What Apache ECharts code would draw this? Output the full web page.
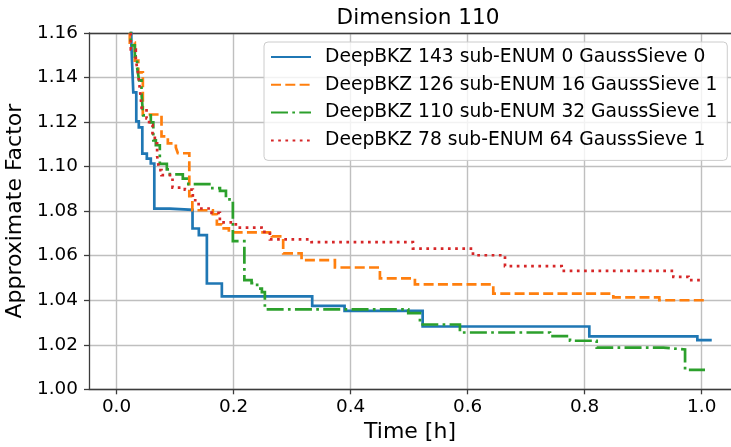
<!DOCTYPE html>
<html>
<head>
<meta charset="utf-8">
<script src="https://cdn.jsdelivr.net/npm/echarts@6/dist/echarts.min.js"></script>
<style>
  html, body { margin: 0; padding: 0; background: #fff; overflow: hidden; }
  #chart { width: 731px; height: 447px; }
</style>
</head>
<body>
<div id="chart"></div>
<script>
// step points: time where the value changes, value after the change
const seriesNames = [
  'DeepBKZ 143 sub-ENUM 0 GaussSieve 0',
  'DeepBKZ 126 sub-ENUM 16 GaussSieve 1',
  'DeepBKZ 110 sub-ENUM 32 GaussSieve 1',
  'DeepBKZ 78 sub-ENUM 64 GaussSieve 1'
]

const blueTime = [0.015, 0.0253, 0.0287, 0.0338, 0.0381, 0.0441, 0.0518, 0.0586, 0.0646, 0.0911, 0.1299, 0.1407, 0.1544, 0.18, 0.3344, 0.3897, 0.5231, 0.8079, 0.9925, 1.0171]
const blueFactor = [1.19, 1.1553, 1.1333, 1.1203, 1.1176, 1.1058, 1.1036, 1.1014, 1.0811, 1.0806, 1.0722, 1.0692, 1.0475, 1.0417, 1.0375, 1.0352, 1.0282, 1.0238, 1.0221, 1.0221]

const orangeTime = [0.015, 0.0227, 0.0313, 0.0373, 0.045, 0.0769, 0.0877, 0.1014, 0.1048, 0.1244, 0.1296, 0.1646, 0.1715, 0.18, 0.192, 0.2655, 0.2848, 0.3162, 0.3732, 0.4501, 0.5099, 0.6438, 0.8489, 0.9275, 1.0056]
const orangeFactor = [1.19, 1.1557, 1.1476, 1.1423, 1.1234, 1.1136, 1.1104, 1.1086, 1.106, 1.0867, 1.0804, 1.0786, 1.0741, 1.0723, 1.0705, 1.0687, 1.061, 1.058, 1.0547, 1.0498, 1.0471, 1.043, 1.0413, 1.04, 1.04]

const greenTime = [0.015, 0.0244, 0.0313, 0.0352, 0.0386, 0.0427, 0.0455, 0.0586, 0.0629, 0.0672, 0.074, 0.086, 0.0911, 0.1133, 0.1227, 0.1612, 0.1768, 0.187, 0.1988, 0.2185, 0.2308, 0.2403, 0.2484, 0.2535, 0.4985, 0.5185, 0.5868, 0.7407, 0.7749, 0.8205, 0.9344, 0.9715, 1.0056]
const greenFactor = [1.19, 1.1544, 1.1495, 1.1445, 1.1387, 1.1328, 1.123, 1.1199, 1.1118, 1.1096, 1.1012, 1.0988, 1.0965, 1.0946, 1.0921, 1.0903, 1.0891, 1.0853, 1.0665, 1.049, 1.0477, 1.0452, 1.0436, 1.0359, 1.0342, 1.0291, 1.0255, 1.0239, 1.0218, 1.0187, 1.0179, 1.0087, 1.0087]

const redTime = [0.015, 0.0244, 0.033, 0.0352, 0.0369, 0.0386, 0.041, 0.0432, 0.0513, 0.0557, 0.0615, 0.0655, 0.0694, 0.0728, 0.0769, 0.0957, 0.1168, 0.1304, 0.1403, 0.1624, 0.1766, 0.2039, 0.2479, 0.2621, 0.3333, 0.5065, 0.6091, 0.6638, 0.7607, 0.9515, 0.9774, 1.0027]
const redFactor = [1.19, 1.1526, 1.1477, 1.1445, 1.1418, 1.1378, 1.132, 1.1253, 1.1217, 1.1186, 1.1141, 1.1105, 1.1047, 1.0984, 1.0962, 1.0906, 1.0897, 1.0849, 1.0812, 1.0792, 1.075, 1.0726, 1.0707, 1.0673, 1.0661, 1.0632, 1.0602, 1.0553, 1.0532, 1.0505, 1.049, 1.049]

const xTicks = [0, 0.2, 0.4, 0.6, 0.8, 1.0]

const colors = ['#1f77b4', '#ff7f0e', '#2ca02c', '#d62728']
const lw = 2.7
const dashes = ['solid', [10, 4.3], [17, 4.3, 2.7, 4.3], [2.7, 4.5]]

function zip(xs, ys) {
  return xs.map((x, i) => [x, ys[i]])
}

const allData = [
  zip(blueTime, blueFactor),
  zip(orangeTime, orangeFactor),
  zip(greenTime, greenFactor),
  zip(redTime, redFactor)
]

const font = 'DejaVu Sans'
const spine = '#3c3c3c'
const chart = echarts.init(document.getElementById('chart'), null, { renderer: 'canvas' })

chart.setOption({
  animation: false,
  backgroundColor: '#fff',
  title: {
    text: 'Dimension 110',
    left: 413,
    textAlign: 'center',
    top: 2,
    textStyle: { fontFamily: font, fontSize: 21.6, fontWeight: 'normal', color: '#000' }
  },
  // the plot runs past the right edge of the picture, so only three spines show
  grid: {
    left: 89,
    top: 33,
    width: 642,
    height: 356.3,
    show: false,
    containLabel: false,
    outerBoundsMode: 'none'
  },
  legend: {
    orient: 'vertical',
    left: 264,
    top: 42,
    itemWidth: 40,
    itemHeight: 14,
    itemGap: 5.8,
    padding: [4, 10, 9, 6],
    backgroundColor: 'rgba(255,255,255,0.8)',
    borderColor: '#cccccc',
    borderWidth: 1,
    borderRadius: 4,
    itemStyle: { color: 'rgba(0,0,0,0)', borderWidth: 0, opacity: 0 },
    textStyle: {
      fontFamily: font,
      fontSize: 18.7,
      lineHeight: 22,
      color: '#000',
      padding: [0, 0, 0, 9]
    },
    data: seriesNames
  },
  xAxis: [{
    type: 'value',
    min: -0.047,
    max: 1.05,
    name: 'Time [h]',
    nameLocation: 'middle',
    nameGap: 31,
    nameTextStyle: { fontFamily: font, fontSize: 22, color: '#000' },
    axisLine: { show: true, onZero: false, lineStyle: { color: spine, width: 1.3 } },
    axisTick: { show: true, length: 5, customValues: xTicks, lineStyle: { color: spine, width: 1.3 } },
    axisLabel: {
      customValues: xTicks,
      margin: 9,
      fontFamily: font,
      fontSize: 18.4,
      color: '#000',
      formatter: v => v.toFixed(1)
    },
    splitLine: { show: true, lineStyle: { color: '#bfbfbf', width: 1.4 } }
  }, {
    // top spine only
    type: 'value',
    position: 'top',
    min: -0.047,
    max: 1.05,
    axisLine: { show: true, onZero: false, lineStyle: { color: spine, width: 1.3 } },
    axisTick: { show: false },
    axisLabel: { show: false },
    splitLine: { show: false }
  }],
  yAxis: {
    type: 'value',
    min: 1.0,
    max: 1.16,
    interval: 0.02,
    name: 'Approximate Factor',
    nameLocation: 'middle',
    nameGap: 41,
    nameTextStyle: { fontFamily: font, fontSize: 22, color: '#000' },
    axisLine: { show: true, onZero: false, lineStyle: { color: spine, width: 1.3 } },
    axisTick: { show: true, length: 5, lineStyle: { color: spine, width: 1.3 } },
    axisLabel: {
      margin: 11,
      fontFamily: font,
      fontSize: 18.4,
      color: '#000',
      formatter: v => v.toFixed(2)
    },
    splitLine: { show: true, lineStyle: { color: '#bfbfbf', width: 1.4 } }
  },
  series: allData.map((d, i) => ({
    name: seriesNames[i],
    type: 'line',
    step: 'end',
    data: d,
    symbol: 'none',
    clip: true,
    color: colors[i],
    lineStyle: { color: colors[i], width: lw, type: dashes[i], cap: 'butt', join: 'miter' }
  }))
})
</script>
</body>
</html>
